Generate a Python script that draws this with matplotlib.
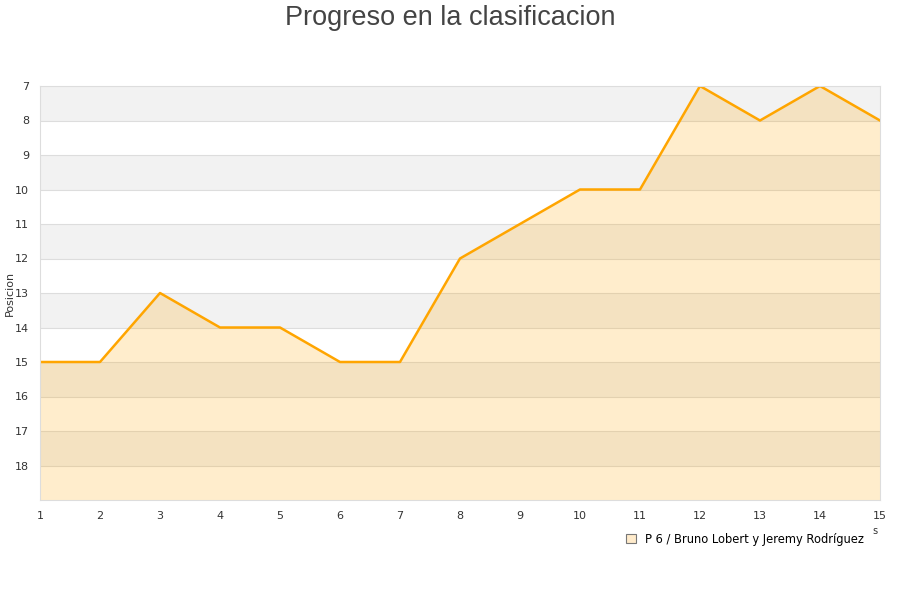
import matplotlib
matplotlib.use("Agg")
import matplotlib.pyplot as plt
import matplotlib.patches as mpatches

jornadas = list(range(1, 16))
posiciones = [15, 15, 13, 14, 14, 15, 15, 12, 11, 10, 10, 7, 8, 7, 8]
serie = "P 6 / Bruno Lobert y Jeremy Rodríguez"
titulo = "Progreso en la clasificacion"

fig = plt.figure(figsize=(9, 6), dpi=100)
ax = fig.add_axes([40/900, 1-500/600, 840/900, 414/600])

ymin, ymax = 7, 19
for k in range(ymin, ymax):
    if (k - ymin) % 2 == 0:
        ax.axhspan(k, k+1, color="#F2F2F2", zorder=0, lw=0)
for k in range(ymin+1, ymax):
    ax.axhline(k, color="#DDDDDD", lw=0.8, zorder=0.5)

ax.fill_between(jornadas, posiciones, ymax, color="#FFA500", alpha=0.2, lw=0, zorder=1)
ax.plot(jornadas, posiciones, color="#FFA500", lw=1.8, zorder=2)

ax.set_xlim(1, 15)
ax.set_ylim(ymax, ymin)
ax.set_xticks(jornadas)
ax.set_yticks(list(range(7, 19)))
ax.tick_params(axis="both", length=0, labelsize=8, colors="#333333", pad=8)
for s in ax.spines.values():
    s.set_color("#DDDDDD")
    s.set_linewidth(0.8)
ax.set_ylabel("Posicion", fontsize=8, color="#333333")
ax.yaxis.set_label_coords(-25/840, 0.5)

fig.text(0.5, 0.992, titulo, ha="center", va="top", fontsize=19.5, color="#444444",
         family="Liberation Sans")

handle = mpatches.Patch(facecolor="#FFEBCB", edgecolor="#777777", lw=0.8)
leg = fig.legend([handle], [serie], loc="center", bbox_to_anchor=(745/900, 1-539/600),
                 frameon=False, fontsize=8.3, handlelength=0.8, handleheight=0.8, handletextpad=0.8)
fig.text(875/900, 1-531/600, "s", fontsize=7, color="#333333", ha="center", va="center")

fig.savefig("out.png", dpi=100)
